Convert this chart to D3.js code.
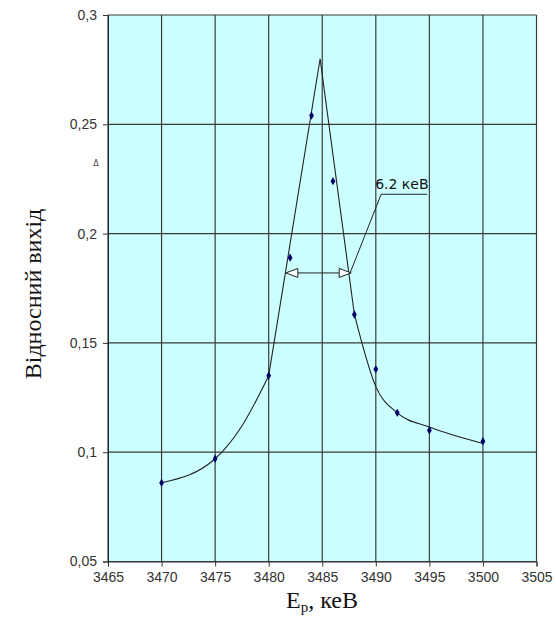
<!DOCTYPE html>
<html>
<head>
<meta charset="utf-8">
<script src="https://cdn.jsdelivr.net/npm/d3@7"></script>
<style>
  html, body { margin: 0; padding: 0; background: #fff; }
  svg { display: block; }
</style>
</head>
<body>
<svg id="chart" width="556" height="623"></svg>
<script>
// ---- data ----
const xTicks = [3465, 3470, 3475, 3480, 3485, 3490, 3495, 3500, 3505];
const yTicks = [0.05, 0.1, 0.15, 0.2, 0.25, 0.3];
const yTickLabels = ["0,05", "0,1", "0,15", "0,2", "0,25", "0,3"];

const pointE = [3470, 3475, 3480, 3482, 3484, 3486, 3488, 3490, 3492, 3495, 3500];
const pointV = [0.086, 0.097, 0.135, 0.189, 0.254, 0.224, 0.163, 0.138, 0.118, 0.110, 0.105];

// fitted curve: left smooth part, straight peak, right smooth part
const curveLeftE = [3470, 3475, 3477.5, 3480];
const curveLeftV = [0.086, 0.097, 0.112, 0.135];
const curvePeakE = [3480, 3484.8, 3488];
const curvePeakV = [0.135, 0.280, 0.163];
const curveRightE = [3488, 3490, 3492, 3495, 3500];
const curveRightV = [0.163, 0.130, 0.118, 0.1115, 0.104];

// FWHM annotation
const fwhmE = [3481.6, 3487.7];
const fwhmV = 0.182;
const fwhmLabel = "6.2 кеВ";
const labelE = [3487.6, 3490.5, 3494.8];   // leader: arrow end, elbow, underline end
const labelV = [0.182, 0.218, 0.218];

const xTitle = ["E", "р", ", кеВ"];
const yTitle = "Відносний вихід";

// ---- layout ----
const svg = d3.select("#chart");
const L = 108, R = 536.5, T = 15, B = 561.5;
const x = d3.scaleLinear().domain([3465, 3505]).range([L, R]);
const y = d3.scaleLinear().domain([0.05, 0.3]).range([B, T]);

// plot background
svg.append("rect").attr("x", L).attr("y", T).attr("width", R - L).attr("height", B - T)
  .attr("fill", "#ccffff");

// grid
const grid = svg.append("g").attr("stroke", "#3a3a3a").attr("stroke-width", 1.2);
xTicks.forEach(t => grid.append("line")
  .attr("x1", x(t)).attr("x2", x(t)).attr("y1", T).attr("y2", B));
yTicks.forEach(t => grid.append("line")
  .attr("x1", L).attr("x2", R).attr("y1", y(t)).attr("y2", y(t)));

// axes
const xAxis = d3.axisBottom(x).tickValues(xTicks).tickSize(5).tickPadding(6)
  .tickFormat(d3.format("d"));
const gx = svg.append("g").attr("transform", `translate(0,${B})`).call(xAxis);
gx.select(".domain").attr("stroke", "#333");
gx.selectAll(".tick line").attr("stroke", "#333");
gx.selectAll("text").attr("font-family", "Liberation Sans, Arial, sans-serif")
  .attr("font-size", 14).attr("fill", "#333");

const yAxis = d3.axisLeft(y).tickValues(yTicks).tickSize(5).tickPadding(6)
  .tickFormat((d, i) => yTickLabels[i]);
const gy = svg.append("g").attr("transform", `translate(${L},0)`).call(yAxis);
gy.select(".domain").attr("stroke", "#222");
gy.selectAll(".tick line").attr("stroke", "#333");
gy.selectAll("text").attr("font-family", "Liberation Sans, Arial, sans-serif")
  .attr("font-size", 14).attr("fill", "#333");

// fitted curve
const zip = (a, b) => a.map((v, i) => [v, b[i]]);
const lineSmooth = d3.line().x(d => x(d[0])).y(d => y(d[1])).curve(d3.curveMonotoneX);
const lineStraight = d3.line().x(d => x(d[0])).y(d => y(d[1]));
const curveG = svg.append("g").attr("fill", "none").attr("stroke", "#222").attr("stroke-width", 1.1);
curveG.append("path").attr("d", lineSmooth(zip(curveLeftE, curveLeftV)));
curveG.append("path").attr("d", lineStraight(zip(curvePeakE, curvePeakV)));
curveG.append("path").attr("d", lineSmooth(zip(curveRightE, curveRightV)));

// markers
const sym = d3.symbol().type(d3.symbolDiamond).size(20);
svg.append("g").selectAll("path").data(zip(pointE, pointV)).join("path")
  .attr("d", sym)
  .attr("transform", d => `translate(${x(d[0])},${y(d[1])})`)
  .attr("fill", "#000066");

// FWHM arrow
const ay = y(fwhmV);
const xl = x(fwhmE[0]), xr = x(fwhmE[1]);
const ann = svg.append("g");
ann.append("line").attr("x1", xl + 12).attr("x2", xr - 12).attr("y1", ay).attr("y2", ay)
  .attr("stroke", "#222").attr("stroke-width", 1);
ann.append("path")
  .attr("d", `M${xl},${ay} L${xl + 12},${ay - 4.5} L${xl + 12},${ay + 4.5} Z`)
  .attr("fill", "#fff").attr("stroke", "#222").attr("stroke-width", 1);
ann.append("path")
  .attr("d", `M${xr},${ay} L${xr - 12},${ay - 4.5} L${xr - 12},${ay + 4.5} Z`)
  .attr("fill", "#fff").attr("stroke", "#222").attr("stroke-width", 1);

// leader and label
ann.append("path").attr("d", lineStraight(zip(labelE, labelV)))
  .attr("fill", "none").attr("stroke", "#222").attr("stroke-width", 1);
ann.append("text").attr("x", x(labelE[1]) - 6).attr("y", y(labelV[1]) - 5)
  .attr("font-family", "DejaVu Sans, sans-serif").attr("font-size", 14)
  .attr("fill", "#111").text(fwhmLabel);

// tiny stray mark
svg.append("text").attr("x", 96).attr("y", 166).attr("text-anchor", "middle")
  .attr("font-family", "DejaVu Sans, sans-serif").attr("font-size", 8)
  .attr("fill", "#444").text("Δ");

// axis titles
const xt = svg.append("text").attr("x", 322).attr("y", 608).attr("text-anchor", "middle")
  .attr("font-family", "Liberation Serif, Times New Roman, serif").attr("font-size", 24)
  .attr("fill", "#111");
xt.append("tspan").text(xTitle[0]);
xt.append("tspan").attr("font-size", 15).attr("dy", 4).text(xTitle[1]);
xt.append("tspan").attr("dy", -4).text(xTitle[2]);

svg.append("text").attr("transform", "translate(41,294) rotate(-90)")
  .attr("text-anchor", "middle")
  .attr("font-family", "Liberation Serif, Times New Roman, serif").attr("font-size", 24)
  .attr("fill", "#111").text(yTitle);
</script>
</body>
</html>
